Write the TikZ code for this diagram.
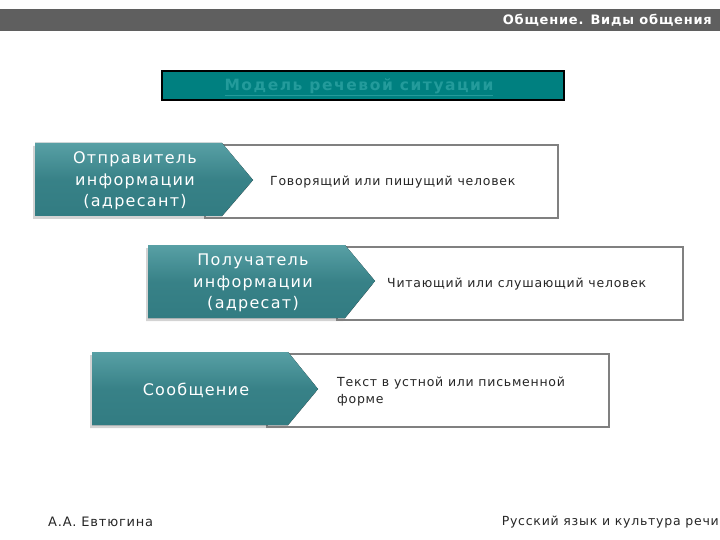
\documentclass[tikz,border=0pt]{standalone}
\usepackage{fontspec}
\setmainfont{DejaVu Sans}
\newfontfamily\descfont[LetterSpace=6]{DejaVu Sans}
\newfontfamily\titlefont[LetterSpace=10]{DejaVu Sans}
\newfontfamily\headfont[LetterSpace=8]{DejaVu Sans}
\usetikzlibrary{shadows}
\definecolor{bargray}{RGB}{95,95,95}
\definecolor{titleteal}{RGB}{0,128,128}
\definecolor{titletext}{RGB}{35,155,155}
\definecolor{arrowtop}{RGB}{88,160,165}
\definecolor{arrowbot}{RGB}{50,124,130}
\definecolor{boxgray}{RGB}{128,128,128}
\begin{document}
\begin{tikzpicture}[x=1pt, y=-1pt]
\useasboundingbox (0,0) rectangle (720,540);
\tikzset{every node/.style={inner sep=0pt}}
\tikzset{arrowshape/.style={top color=arrowtop, bottom color=arrowbot, middle color=arrowbot!85!arrowtop, drop shadow={shadow xshift=-2pt, shadow yshift=-3pt, opacity=0.35}}}
\tikzset{descbox/.style={fill=white, draw=boxgray, line width=2.4pt}}
\tikzset{lbl/.style={text=white, align=center, font=\headfont\fontsize{16}{21.5}\selectfont}}
\tikzset{desc/.style={anchor=west, align=left, text=black!85, font=\descfont\fontsize{12.5}{17}\selectfont}}

% header
\fill[bargray] (0,9) rectangle (720,31);
\node[anchor=east, text=white, font=\descfont\bfseries\fontsize{13}{14}\selectfont] (head) at (712,20) {Общение. Виды общения};

% title
\draw[fill=titleteal, draw=black, line width=1.5pt] (162,71) rectangle (564,100);
\node[text=titletext, font=\titlefont\bfseries\fontsize{15.5}{17}\selectfont] (title) at (359,87) {\underline{Модель речевой ситуации}};

% boxes
\draw[descbox] (205,145) rectangle (558,218);
\draw[descbox] (337,247) rectangle (683,320);
\draw[descbox] (267,354) rectangle (609,427);

% arrows
\fill[arrowshape] (35,143) -- (222,143) -- (253,180) -- (222,216) -- (35,216) -- cycle;
\fill[arrowshape] (148,245) -- (345,245) -- (375,281) -- (345,318) -- (148,318) -- cycle;
\fill[arrowshape] (92,352) -- (288,352) -- (318,389) -- (288,425) -- (92,425) -- cycle;

\node[lbl] (sender) at (135,181) {Отправитель\\информации\\(адресант)};
\node[lbl] (receiver) at (253,283) {Получатель\\информации\\(адресат)};
\node[lbl] (message) at (196,390) {Сообщение};

\node[desc] (sendertxt) at (270,182) {Говорящий или пишущий человек};
\node[desc] (receivertxt) at (387,284) {Читающий или слушающий человек};
\node[desc] (messagetxt) at (337,392) {Текст в устной или письменной\\форме};

% footer
\node[anchor=west, text=black!85, font=\descfont\fontsize{13}{14}\selectfont] (author) at (48,522) {А.А. Евтюгина};
\node[anchor=east, text=black!85, font=\descfont\fontsize{12.5}{14}\selectfont] (course) at (719,522) {Русский язык и культура речи};
\end{tikzpicture}
\end{document}
